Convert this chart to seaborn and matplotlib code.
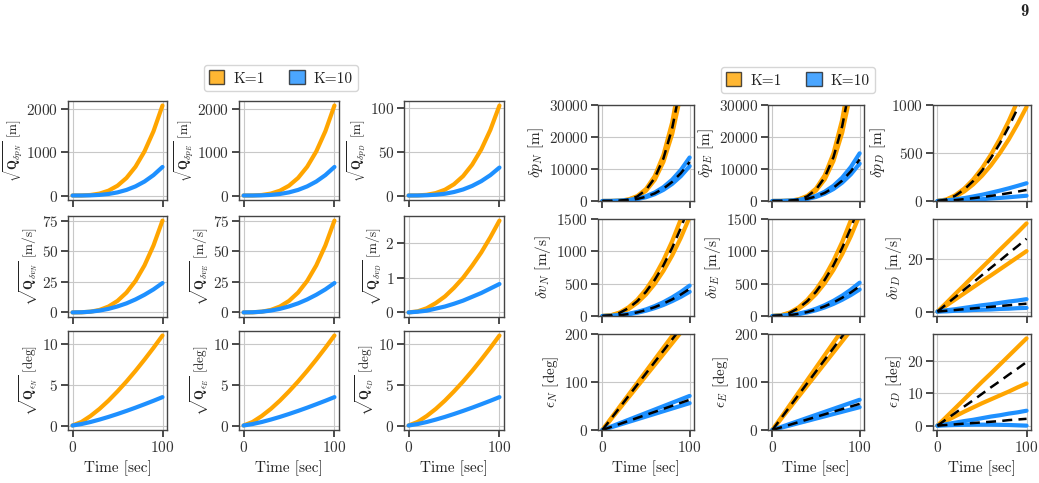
import matplotlib
matplotlib.use("Agg")
import matplotlib.pyplot as plt
from matplotlib.patches import Patch
import seaborn as sns

# time axis [sec]
t = [0, 10, 20, 30, 40, 50, 60, 70, 80, 90, 100]

# ---- left block: sqrt(Q) for K=1 and K=10 ----
left_labels = [
    r"$\sqrt{\mathbf{Q}_{\delta p_N}}$ [m]", r"$\sqrt{\mathbf{Q}_{\delta p_E}}$ [m]", r"$\sqrt{\mathbf{Q}_{\delta p_D}}$ [m]",
    r"$\sqrt{\mathbf{Q}_{\delta v_N}}$ [m/s]", r"$\sqrt{\mathbf{Q}_{\delta v_E}}$ [m/s]", r"$\sqrt{\mathbf{Q}_{\delta v_D}}$ [m/s]",
    r"$\sqrt{\mathbf{Q}_{\epsilon_N}}$ [deg]", r"$\sqrt{\mathbf{Q}_{\epsilon_E}}$ [deg]", r"$\sqrt{\mathbf{Q}_{\epsilon_D}}$ [deg]",
]
q_k1 = [
    [0, 1, 12, 44, 111, 226, 406, 665, 1019, 1485, 2080],
    [0, 1, 12, 44, 111, 226, 406, 665, 1019, 1485, 2080],
    [0, 0.1, 0.8, 2.8, 6.6, 12.9, 22.2, 35.3, 52.7, 75.1, 103],
    [0, 0.08, 0.6, 2.0, 4.8, 9.4, 16.2, 25.7, 38.4, 54.7, 75],
    [0, 0.08, 0.6, 2.0, 4.8, 9.4, 16.2, 25.7, 38.4, 54.7, 75],
    [0, 0.03, 0.12, 0.27, 0.46, 0.71, 1.0, 1.35, 1.73, 2.17, 2.65],
    [0, 0.44, 1.17, 2.05, 3.07, 4.21, 5.43, 6.74, 8.13, 9.58, 11.1],
    [0, 0.44, 1.17, 2.05, 3.07, 4.21, 5.43, 6.74, 8.13, 9.58, 11.1],
    [0, 0.44, 1.17, 2.05, 3.07, 4.21, 5.43, 6.74, 8.13, 9.58, 11.1],
]
q_k10 = [
    [0, 0.4, 4, 14, 35, 72, 129, 211, 323, 471, 660],
    [0, 0.4, 4, 14, 35, 72, 129, 211, 323, 471, 660],
    [0, 0.03, 0.3, 0.9, 2.0, 4.0, 6.9, 11.0, 16.4, 23.3, 32],
    [0, 0.12, 0.59, 1.5, 2.9, 4.9, 7.4, 10.6, 14.4, 18.8, 24],
    [0, 0.12, 0.59, 1.5, 2.9, 4.9, 7.4, 10.6, 14.4, 18.8, 24],
    [0, 0.02, 0.05, 0.11, 0.17, 0.25, 0.34, 0.45, 0.56, 0.69, 0.82],
    [0, 0.18, 0.43, 0.73, 1.06, 1.42, 1.80, 2.20, 2.62, 3.05, 3.5],
    [0, 0.18, 0.43, 0.73, 1.06, 1.42, 1.80, 2.20, 2.62, 3.05, 3.5],
    [0, 0.18, 0.43, 0.73, 1.06, 1.42, 1.80, 2.20, 2.62, 3.05, 3.5],
]
left_ticks = [[0, 1000, 2000], [0, 1000, 2000], [0, 50, 100],
              [0, 25, 50, 75], [0, 25, 50, 75], [0, 1, 2],
              [0, 5, 10], [0, 5, 10], [0, 5, 10]]

# ---- right block: error bounds (K=1 hi/lo, K=10 hi/lo) and actual error (dashed) ----
right_labels = [
    r"$\delta p_N$ [m]", r"$\delta p_E$ [m]", r"$\delta p_D$ [m]",
    r"$\delta v_N$ [m/s]", r"$\delta v_E$ [m/s]", r"$\delta v_D$ [m/s]",
    r"$\epsilon_N$ [deg]", r"$\epsilon_E$ [deg]", r"$\epsilon_D$ [deg]",
]
k1_hi = [
    [0, 6, 96, 486, 1536, 3750, 7776, 14406, 24576, 39366, 60000],
    [0, 6, 99, 502, 1587, 3875, 8035, 14886, 25395, 40678, 62000],
    [0, 16, 60, 129, 223, 341, 483, 647, 833, 1043, 1274],
    [0, 12, 55, 134, 251, 411, 614, 862, 1157, 1499, 1890],
    [0, 12, 54, 132, 249, 407, 608, 853, 1144, 1483, 1870],
    [0, 3.3, 6.7, 10.0, 13.4, 16.7, 20.0, 23.4, 26.7, 30.0, 33.4],
    [0, 24.5, 49, 73.5, 98, 122.5, 147, 171.5, 196, 220.5, 245],
    [0, 26, 52, 78, 104, 130, 156, 182, 208, 234, 260],
    [0, 2.7, 5.4, 8.1, 10.8, 13.5, 16.1, 18.8, 21.5, 24.2, 26.9],
]
k1_lo = [
    [0, 5, 82, 413, 1306, 3188, 6610, 12245, 20890, 33461, 51000],
    [0, 5, 83, 421, 1331, 3250, 6739, 12485, 21299, 34117, 52000],
    [0, 12, 46, 99, 172, 263, 371, 498, 641, 803, 980],
    [0, 10, 44, 108, 203, 333, 497, 698, 936, 1213, 1530],
    [0, 10, 45, 110, 207, 339, 507, 711, 955, 1237, 1560],
    [0, 2.3, 4.6, 6.9, 9.2, 11.5, 13.7, 16.0, 18.3, 20.6, 22.9],
    [0, 22.6, 45.2, 67.8, 90.4, 113, 135.6, 158.2, 180.8, 203.4, 226],
    [0, 23.1, 46.2, 69.3, 92.4, 115.5, 138.6, 161.7, 184.8, 207.9, 231],
    [0, 1.5, 2.9, 4.3, 5.6, 6.9, 8.1, 9.3, 10.5, 11.8, 13.0],
]
k1_err = [
    [0, 6, 89, 450, 1421, 3469, 7193, 13326, 22733, 36414, 55500],
    [0, 6, 91, 462, 1459, 3563, 7387, 13686, 23347, 37398, 57000],
    [0, 15, 55, 120, 207, 316, 447, 599, 772, 966, 1180],
    [0, 11, 50, 122, 229, 374, 559, 784, 1053, 1364, 1720],
    [0, 11, 50, 122, 229, 374, 559, 784, 1053, 1364, 1720],
    [0, 2.8, 5.5, 8.3, 11.0, 13.8, 16.6, 19.3, 22.1, 24.8, 27.6],
    [0, 23.6, 47.2, 70.8, 94.4, 118, 141.6, 165.2, 188.8, 212.4, 236],
    [0, 24.4, 48.8, 73.2, 97.6, 122, 146.4, 170.8, 195.2, 219.6, 244],
    [0, 2.0, 3.9, 5.9, 7.8, 9.8, 11.8, 13.7, 15.7, 17.6, 19.6],
]
k10_hi = [
    [0, 9, 79, 288, 725, 1480, 2652, 4345, 6660, 9710, 13600],
    [0, 9, 86, 316, 794, 1621, 2906, 4761, 7297, 10639, 14900],
    [0, 6, 17, 30, 47, 65, 86, 108, 132, 158, 185],
    [0, 3, 14, 33, 63, 102, 153, 214, 288, 373, 470],
    [0, 3, 15, 36, 68, 112, 167, 235, 315, 408, 515],
    [0, 0.5, 0.9, 1.4, 1.9, 2.4, 2.8, 3.3, 3.8, 4.2, 4.7],
    [0, 7.1, 14.2, 21.3, 28.4, 35.5, 42.6, 49.7, 56.8, 63.9, 71],
    [0, 6.3, 12.6, 18.9, 25.2, 31.5, 37.8, 44.1, 50.4, 56.7, 63],
    [0, 0.46, 0.92, 1.4, 1.8, 2.3, 2.8, 3.2, 3.7, 4.1, 4.6],
]
k10_lo = [
    [0, 7, 63, 231, 581, 1186, 2126, 3483, 5338, 7783, 10900],
    [0, 7, 68, 248, 624, 1273, 2282, 3738, 5729, 8354, 11700],
    [0, 2, 5, 9, 14, 19, 26, 32, 39, 47, 55],
    [0, 2, 11, 27, 50, 82, 122, 171, 230, 297, 375],
    [0, 3, 12, 29, 55, 89, 133, 187, 251, 325, 410],
    [0, 0.1, 0.3, 0.4, 0.6, 0.7, 0.8, 1.0, 1.1, 1.3, 1.4],
    [0, 5.6, 11.2, 16.8, 22.4, 28, 33.6, 39.2, 44.8, 50.4, 56],
    [0, 4.8, 9.5, 14.3, 19, 23.8, 28.5, 33.3, 38, 42.8, 47.5],
    [0, 0.1, 0.2, 0.25, 0.3, 0.3, 0.3, 0.25, 0.2, 0.1, 0],
]
k10_err = [
    [0, 8, 71, 259, 650, 1327, 2379, 3898, 5974, 8711, 12200],
    [0, 8, 75, 276, 693, 1414, 2535, 4154, 6366, 9282, 13000],
    [0, 4, 10, 19, 29, 41, 53, 67, 82, 98, 115],
    [0, 3, 12, 30, 56, 91, 137, 192, 257, 333, 420],
    [0, 3, 13, 33, 61, 100, 150, 210, 282, 365, 460],
    [0, 0.3, 0.6, 0.9, 1.2, 1.5, 1.8, 2.1, 2.4, 2.7, 3.0],
    [0, 6.3, 12.6, 18.9, 25.2, 31.5, 37.8, 44.1, 50.4, 56.7, 63],
    [0, 5.5, 10.9, 16.4, 21.8, 27.3, 32.7, 38.2, 43.6, 49.1, 54.5],
    [0, 0.2, 0.4, 0.6, 0.8, 1.0, 1.2, 1.4, 1.7, 1.9, 2.1],
]
right_ticks = [[0, 10000, 20000, 30000], [0, 10000, 20000, 30000], [0, 500, 1000],
               [0, 500, 1000, 1500], [0, 500, 1000, 1500], [0, 20],
               [0, 100, 200], [0, 100, 200], [0, 10, 20]]
right_ylim = [(0, 30000), (0, 30000), (0, 1000),
              (0, 1500), (0, 1500), None,
              (0, 200), (0, 200), None]

ORANGE = "#FFA500"
BLUE = "#1E90FF"

sns.set_theme(style="whitegrid", rc={
    "axes.edgecolor": "#444444",
    "axes.linewidth": 1.0,
    "grid.color": "#c8c8c8",
    "grid.linewidth": 0.8,
    "xtick.bottom": True,
    "ytick.left": True,
    "xtick.major.size": 5,
    "ytick.major.size": 5,
    "xtick.color": "#333333",
    "ytick.color": "#333333",
    "text.color": "#222222",
    "axes.labelcolor": "#222222",
})
plt.rcParams["font.family"] = ["cmr10", "DejaVu Serif"]
plt.rcParams["mathtext.fontset"] = "cm"
plt.rcParams["axes.formatter.use_mathtext"] = True
plt.rcParams["font.size"] = 10

W, H = 1039, 483
fig = plt.figure(figsize=(W / 100, H / 100), dpi=100)

left_cols = [(68, 167), (239, 339), (404, 504)]
left_rows = [(101, 200), (216, 317), (331, 430)]
right_cols = [(598, 694), (768, 864), (933, 1031)]
right_rows = [(105, 201), (219, 316), (334, 430)]


def make_ax(col, row):
    x0, x1 = col
    y0, y1 = row
    return fig.add_axes([x0 / W, 1 - y1 / H, (x1 - x0) / W, (y1 - y0) / H])


def style_ax(ax, i, label, ticks, label_size, pad):
    ax.set_ylabel(label, fontsize=label_size, labelpad=pad)
    ax.set_yticks(ticks)
    ax.set_xticks([0, 100])
    ax.tick_params(labelsize=11, pad=2)
    if i < 6:
        ax.set_xticklabels([])
        ax.set_xlabel("")
    else:
        ax.set_xlabel("Time [sec]", fontsize=11)
    for s in ax.spines.values():
        s.set_visible(True)


for i in range(9):
    r, c = divmod(i, 3)
    ax = make_ax(left_cols[c], left_rows[r])
    sns.lineplot(x=t, y=q_k1[i], ax=ax, color=ORANGE, lw=3)
    sns.lineplot(x=t, y=q_k10[i], ax=ax, color=BLUE, lw=3)
    style_ax(ax, i, left_labels[i], left_ticks[i], 9.5, 1)

for i in range(9):
    r, c = divmod(i, 3)
    ax = make_ax(right_cols[c], right_rows[r])
    for ys in (k1_hi[i], k1_lo[i]):
        sns.lineplot(x=t, y=ys, ax=ax, color=ORANGE, lw=3)
    for ys in (k10_hi[i], k10_lo[i]):
        sns.lineplot(x=t, y=ys, ax=ax, color=BLUE, lw=3)
    for ys in (k1_err[i], k10_err[i]):
        sns.lineplot(x=t, y=ys, ax=ax, color="black", lw=1.8, linestyle=(0, (4, 2.5)))
    if right_ylim[i] is not None:
        ax.set_ylim(*right_ylim[i])
    style_ax(ax, i, right_labels[i], right_ticks[i], 11, 2)

handles = [Patch(facecolor=ORANGE, edgecolor="#222222", alpha=0.8, label="K=1"),
           Patch(facecolor=BLUE, edgecolor="#222222", alpha=0.8, label="K=10")]
for cx, cy in [(281, 78), (798, 80)]:
    fig.legend(handles=handles, loc="center", bbox_to_anchor=(cx / W, 1 - cy / H),
               ncol=2, fontsize=11, frameon=True, edgecolor="#cccccc",
               handlelength=1.0, handleheight=1.0, columnspacing=1.6,
               borderpad=0.35, handletextpad=0.6)

fig.text(1024 / W, 1 - 12 / H, "9", family="cmb10", fontsize=12, ha="center", va="center")

fig.savefig("out.png", dpi=100)
